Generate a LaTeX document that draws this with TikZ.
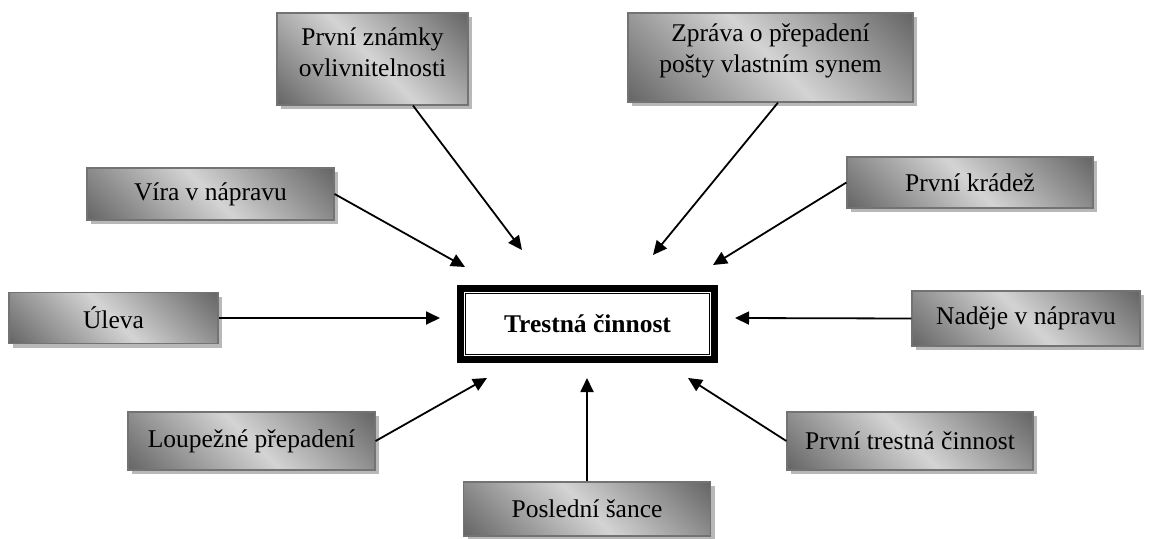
\documentclass[tikz,border=0pt]{standalone}
\usepackage{fontspec}
\setmainfont{Liberation Serif}
\usetikzlibrary{arrows.meta,shadows}
\pgfdeclarehorizontalshading{diagsh}{100bp}{color(0bp)=(black!60); color(15bp)=(black!60); color(50bp)=(black!17); color(85bp)=(black!60); color(100bp)=(black!60)}
\begin{document}
\begin{tikzpicture}[x=1pt,y=-1pt,
  box/.style={rectangle, draw=black!55, line width=1.2pt, shading=diagsh, shading angle=45,
    drop shadow={shadow xshift=4pt, shadow yshift=-4pt, fill=black!28, opacity=1},
    inner sep=0pt, align=center, font=\fontsize{25.5}{31}\selectfont},
  boxtext/.style={inner sep=0pt, align=center, font=\fontsize{25.5}{31}\selectfont},
  arr/.style={line width=1.8pt, -{Triangle[length=14pt,width=13pt]}},
  centerbox/.style={rectangle, draw=black, line width=7pt, inner sep=0pt,
    minimum width=254pt, minimum height=71pt, font=\bfseries\fontsize{25.5}{31}\selectfont}
]
\useasboundingbox (0,0) rectangle (1150,538);

% centre
\node[centerbox] (tc) at (587.5,324) {Trestná činnost};
\draw[line width=1.6pt] ([shift={(8.5pt,-8.5pt)}]tc.north west) rectangle ([shift={(-8.5pt,8.5pt)}]tc.south east);

% outer boxes
\node[box, minimum width=191pt, minimum height=92pt] (pz) at (372.5,59) {};
\node[boxtext] (pzt) at (372.5,52.5) {První známky\\ovlivnitelnosti};
\node[box, minimum width=285pt, minimum height=89pt] (zp) at (770.5,57.5) {};
\node[boxtext] (zpt) at (770.5,51) {Zpráva o přepadení\\pošty vlastním synem};
\node[box, minimum width=246pt, minimum height=51pt] (pk) at (970,182.5) {První krádež};
\node[box, minimum width=247pt, minimum height=52pt] (vn) at (210.5,194) {Víra v nápravu};
\node[box, minimum width=209pt, minimum height=51pt] (ul) at (113.5,318) {Úleva};
\node[box, minimum width=228pt, minimum height=55pt] (nn) at (1026,318.5) {Naděje v nápravu};
\node[box, minimum width=247pt, minimum height=58pt] (lp) at (251.5,441) {Loupežné přepadení};
\node[box, minimum width=247pt, minimum height=54pt] (ps) at (587,509) {Poslední šance};
\node[box, minimum width=246pt, minimum height=58pt] (pt) at (910,441) {První trestná činnost};

% arrow tips
\coordinate (t1) at (465,267);
\coordinate (t2) at (522,250);
\coordinate (t3) at (653,255);
\coordinate (t4) at (713,265);
\coordinate (t5) at (440,318);
\coordinate (t6) at (735,318);
\coordinate (t7) at (487,378);
\coordinate (t8) at (587,378);
\coordinate (t9) at (688,378);

\draw[arr] (vn.east) -- (t1);
\draw[arr] ([xshift=40.5pt]pz.south) -- (t2);
\draw[arr] ([xshift=7.5pt]zp.south) -- (t3);
\draw[arr] (pk.west) -- (t4);
\draw[arr] (ul.east) -- (t5);
\draw[arr] (nn.west) -- (t6);
\draw[arr] (lp.east) -- (t7);
\draw[arr] (ps.north) -- (t8);
\draw[arr] (pt.west) -- (t9);
\end{tikzpicture}
\end{document}
